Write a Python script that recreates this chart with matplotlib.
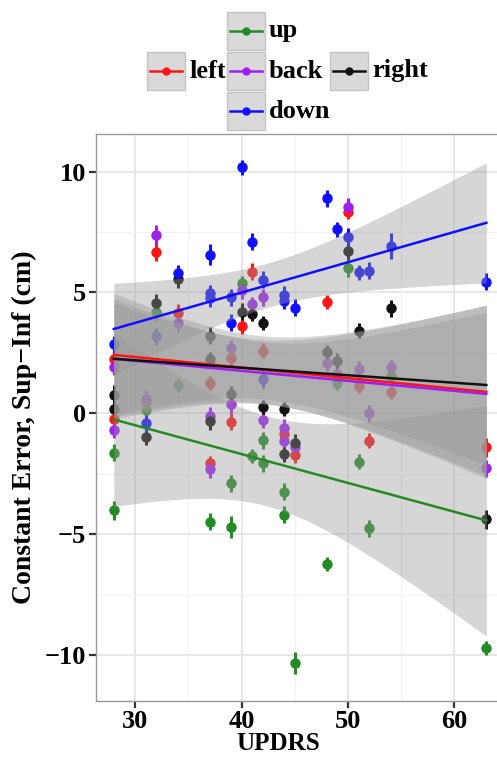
import numpy as np
import matplotlib
matplotlib.use("Agg")
import matplotlib.pyplot as plt
from matplotlib.patches import Rectangle
from matplotlib.lines import Line2D

plt.rcParams['font.family'] = ['Liberation Serif', 'DejaVu Serif']
plt.rcParams['font.weight'] = 'bold'

# data (UPDRS, constant error, error bar half length)
up_x = [28, 28, 31, 32, 34, 37, 39, 39, 40, 41, 42, 42, 44, 44, 45, 48, 49, 50, 51, 52, 54, 63]
up_y = [-1.62, -4.0, 0.14, 4.18, 1.18, -4.47, -2.88, -4.68, 5.4, -1.76, -1.1, -2.06,
        -3.23, -4.19, -10.3, -6.22, 1.25, 6.0, -1.99, -4.74, 1.55, -9.7]
up_e = [0.35, 0.4, 0.3, 0.35, 0.3, 0.35, 0.35, 0.45, 0.3, 0.3, 0.35, 0.35,
        0.35, 0.35, 0.45, 0.3, 0.3, 0.35, 0.3, 0.35, 0.3, 0.3]

left_x = [28, 28, 31, 32, 34, 37, 37, 39, 39, 40, 41, 42, 44, 45, 48, 50, 51, 52, 54, 63]
left_y = [2.24, -0.24, 0.5, 6.66, 4.17, 1.25, -2.06, 2.28, -0.35, 3.6, 5.86, 2.6,
          -0.84, -1.71, 4.6, 8.34, 1.15, -1.12, 0.9, -1.4]
left_e = [0.35, 0.3, 0.3, 0.35, 0.35, 0.3, 0.3, 0.3, 0.35, 0.3, 0.35, 0.3,
          0.3, 0.35, 0.3, 0.3, 0.3, 0.3, 0.3, 0.4]

back_x = [28, 28, 31, 32, 34, 37, 37, 39, 39, 40, 41, 42, 42, 44, 44, 45, 48, 49, 50, 51, 52, 54, 63]
back_y = [1.93, -0.68, 0.6, 7.37, 3.73, -0.1, -2.3, 2.69, 0.4, 5.1, 4.52, 4.8, -0.25,
          -0.58, -1.15, -1.4, 2.1, 1.63, 8.55, 1.83, 0.0, 1.93, -2.27]
back_e = [0.35, 0.35, 0.35, 0.4, 0.35, 0.35, 0.35, 0.35, 0.4, 0.35, 0.3, 0.35, 0.35,
          0.35, 0.4, 0.35, 0.35, 0.35, 0.35, 0.35, 0.35, 0.3, 0.35]

right_x = [28, 28, 31, 32, 34, 37, 37, 37, 39, 40, 41, 42, 42, 44, 44, 45, 48, 49, 50, 51, 54, 63]
right_y = [0.76, 0.17, -0.96, 4.55, 5.55, 3.21, 2.25, -0.32, 0.8, 4.2, 4.11, 3.73, 0.27,
           0.19, -1.69, -1.2, 2.55, 2.18, 6.71, 3.42, 4.35, -4.37]
right_e = [0.4, 0.3, 0.35, 0.4, 0.35, 0.35, 0.3, 0.35, 0.35, 0.35, 0.3, 0.3, 0.3,
           0.3, 0.3, 0.35, 0.3, 0.3, 0.35, 0.3, 0.35, 0.4]

down_x = [28, 31, 32, 34, 37, 37, 37, 39, 39, 40, 41, 42, 42, 44, 44, 45, 48, 49, 50, 51, 52, 54, 63]
down_y = [2.86, -0.41, 3.2, 5.79, 6.57, 4.97, 4.76, 4.81, 3.75, 10.17, 7.1, 5.52, 1.41,
          4.9, 4.65, 4.37, 8.89, 7.61, 7.31, 5.83, 5.89, 6.92, 5.45]
down_e = [0.35, 0.35, 0.35, 0.35, 0.45, 0.35, 0.35, 0.35, 0.35, 0.3, 0.35, 0.35, 0.35,
          0.35, 0.35, 0.35, 0.35, 0.3, 0.35, 0.3, 0.35, 0.55, 0.35]

names = ['up', 'left', 'back', 'right', 'down']
colors = ['#238b23', '#ff1414', '#a020f0', '#111111', '#1010ff']
series = [(up_x, up_y, up_e), (left_x, left_y, left_e), (back_x, back_y, back_e),
          (right_x, right_y, right_e), (down_x, down_y, down_e)]

T95 = 2.08

W, H = 497, 764
fig = plt.figure(figsize=(W / 100, H / 100), dpi=100)


def fx(px):
    return px / W


def fy(py):
    return 1 - py / H


ax = fig.add_axes([fx(95.7), fy(700.7), fx(497) - fx(95.7), fy(134) - fy(700.7)])
ax.set_xlim(26.3, 64.0)
ax.set_ylim(-11.87, 11.55)

ax.set_xticks([30, 40, 50, 60])
ax.set_yticks([-10, -5, 0, 5, 10])
ax.set_xticks([35, 45, 55], minor=True)
ax.set_yticks([-7.5, -2.5, 2.5, 7.5], minor=True)
ax.grid(True, which='major', color='#e6e6e6', lw=1.3, zorder=0)
ax.grid(True, which='minor', color='#f3f3f3', lw=1.0, zorder=0)
ax.set_axisbelow(True)
ax.tick_params(which='minor', length=0)
ax.tick_params(which='major', length=5, width=1.6, color='#333333', labelsize=19, pad=2)
ax.set_yticklabels(['\u221210', '\u22125', '0', '5', '10'])
for lab in ax.get_xticklabels() + ax.get_yticklabels():
    lab.set_fontweight('bold')
for s in ['left', 'bottom', 'top']:
    ax.spines[s].set_color('#9a9a9a')
    ax.spines[s].set_linewidth(1.0)
ax.spines['right'].set_visible(False)

ax.set_xlabel('UPDRS', fontsize=18, fontweight='bold')
ax.xaxis.set_label_coords(0.454, -0.055)
ax.set_ylabel('Constant Error, Sup\u2212Inf (cm)', fontsize=20, fontweight='bold')
ax.yaxis.set_label_coords(-0.146, 0.482)

# points with error bars
for (xs, ys, es), c in zip(series, colors):
    ax.errorbar(xs, ys, yerr=es, fmt='o', color=c, ms=6.5, elinewidth=2.2,
                capsize=0, zorder=2)

# linear fits with 95% confidence band
for (xs, ys, es), c in zip(series, colors):
    x = np.array(xs, float)
    y = np.array(ys, float)
    b, a = np.polyfit(x, y, 1)
    n = len(x)
    resid = y - (a + b * x)
    s = np.sqrt(np.sum(resid ** 2) / (n - 2))
    sxx = np.sum((x - x.mean()) ** 2)
    gx = np.linspace(x.min(), x.max(), 80)
    gy = a + b * gx
    half = T95 * s * np.sqrt(1 / n + (gx - x.mean()) ** 2 / sxx)
    ax.fill_between(gx, gy - half, gy + half, color='#999999', alpha=0.4, lw=0, zorder=3)
    ax.plot(gx, gy, color=c, lw=1.8, zorder=4)

# legend keys laid out as a cross
keys = {'up': (227, 12), 'left': (147, 52), 'back': (227, 52),
        'right': (330, 52), 'down': (227, 92)}
for name, c in zip(names, colors):
    kx, ky = keys[name]
    fig.add_artist(Rectangle((fx(kx), fy(ky + 38)), fx(38), 38 / H,
                             facecolor='#d9d9d9', edgecolor='#c4c4c4', lw=1.0,
                             transform=fig.transFigure))
    fig.add_artist(Line2D([fx(kx + 3), fx(kx + 35)], [fy(ky + 19)] * 2, color=c, lw=1.8,
                          transform=fig.transFigure))
    fig.add_artist(Line2D([fx(kx + 19)], [fy(ky + 19)], color=c, marker='o', ms=5,
                          transform=fig.transFigure))
    fig.text(fx(kx + 42), fy(ky + 19), name, fontsize=19, fontweight='bold',
             va='center', ha='left')

fig.savefig('out.png', dpi=100)
